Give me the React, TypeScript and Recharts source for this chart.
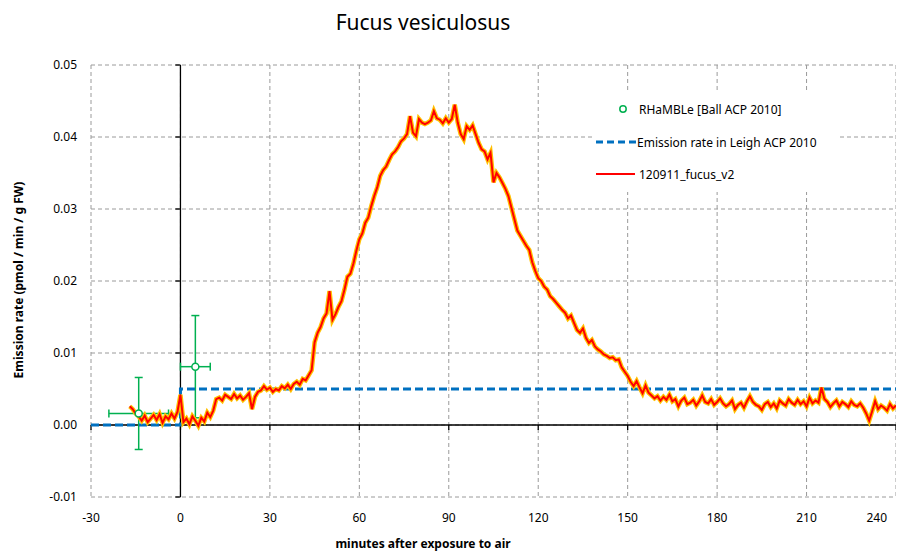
import React from 'react'
import {
  ComposedChart,
  Line,
  Scatter,
  ErrorBar,
  XAxis,
  YAxis,
  CartesianGrid,
  ReferenceLine,
} from 'recharts'

// minute ticks and emission-rate ticks
const xTicks = [-30, 0, 30, 60, 90, 120, 150, 180, 210, 240]
const yTicks = [-0.01, 0, 0.01, 0.02, 0.03, 0.04, 0.05]

// 120911_fucus_v2 — one reading per minute, starting at minute -17
const fucusStart = -17
const fucusRate = [
  0.0026, 0.0022, 0.0016, 0.0012, 0.0006, 0.0013, 0.0004, 0.0009, 0.0014, 0.0007, // -17..-8
  0.0015, 0.0003, 0.0012, 0.0008, 0.0016, 0.0009, 0.0018, 0.0042, 0.0004, 0.0009, // -7..2
  0.0001, 0.0012, 0.0006, -0.0001, 0.0010, 0.0005, 0.0017, 0.0011, 0.0020, 0.0036, // 3..12
  0.0038, 0.0034, 0.0042, 0.0039, 0.0036, 0.0043, 0.0037, 0.0041, 0.0035, 0.0039, // 13..22
  0.0044, 0.0022, 0.0039, 0.0046, 0.0048, 0.0054, 0.0049, 0.0052, 0.0046, 0.0050, // 23..32
  0.0048, 0.0054, 0.0051, 0.0056, 0.0050, 0.0057, 0.0060, 0.0056, 0.0064, 0.0062, // 33..42
  0.0069, 0.0076, 0.0115, 0.0128, 0.0136, 0.0148, 0.0155, 0.0186, 0.0146, 0.0154, // 43..52
  0.0164, 0.0172, 0.0188, 0.0206, 0.0210, 0.0224, 0.0242, 0.0258, 0.0266, 0.0281, // 53..62
  0.0288, 0.0304, 0.0318, 0.0330, 0.0346, 0.0354, 0.0359, 0.0368, 0.0376, 0.0380, // 63..72
  0.0386, 0.0394, 0.0398, 0.0404, 0.0429, 0.0406, 0.0401, 0.0425, 0.0420, 0.0418, // 73..82
  0.0420, 0.0423, 0.0436, 0.0426, 0.0424, 0.0419, 0.0426, 0.0420, 0.0425, 0.0445, // 83..92
  0.0420, 0.0404, 0.0397, 0.0415, 0.0410, 0.0416, 0.0404, 0.0392, 0.0383, 0.0380, // 93..102
  0.0369, 0.0378, 0.0337, 0.0350, 0.0344, 0.0336, 0.0328, 0.0318, 0.0302, 0.0286, // 103..112
  0.0270, 0.0263, 0.0256, 0.0249, 0.0243, 0.0226, 0.0214, 0.0204, 0.0200, 0.0192, // 113..122
  0.0188, 0.0179, 0.0175, 0.0170, 0.0165, 0.0160, 0.0156, 0.0148, 0.0152, 0.0142, // 123..132
  0.0132, 0.0128, 0.0134, 0.0121, 0.0114, 0.0118, 0.0109, 0.0105, 0.0102, 0.0098, // 133..142
  0.0096, 0.0093, 0.0094, 0.0090, 0.0091, 0.0080, 0.0074, 0.0068, 0.0060, 0.0054, // 143..152
  0.0061, 0.0052, 0.0044, 0.0055, 0.0045, 0.0041, 0.0037, 0.0040, 0.0034, 0.0039, // 153..162
  0.0035, 0.0042, 0.0033, 0.0036, 0.0026, 0.0034, 0.0038, 0.0029, 0.0031, 0.0035, // 163..172
  0.0027, 0.0033, 0.0041, 0.0032, 0.0030, 0.0036, 0.0028, 0.0032, 0.0037, 0.0030, // 173..182
  0.0026, 0.0029, 0.0034, 0.0022, 0.0028, 0.0031, 0.0024, 0.0033, 0.0040, 0.0032, // 183..192
  0.0028, 0.0026, 0.0021, 0.0029, 0.0032, 0.0025, 0.0030, 0.0023, 0.0034, 0.0030, // 193..202
  0.0027, 0.0036, 0.0031, 0.0028, 0.0035, 0.0029, 0.0033, 0.0026, 0.0038, 0.0030, // 203..212
  0.0034, 0.0031, 0.0052, 0.0036, 0.0032, 0.0025, 0.0030, 0.0034, 0.0026, 0.0032, // 213..222
  0.0029, 0.0025, 0.0033, 0.0028, 0.0026, 0.0030, 0.0024, 0.0016, 0.0006, 0.0019, // 223..232
  0.0033, 0.0022, 0.0027, 0.0024, 0.0020, 0.0029, 0.0023, 0.0027, // 233..240
]

// Emission rate in Leigh ACP 2010 (step at exposure)
const leighMinutes = [-30, 0, 0, 240]
const leighRate = [0, 0, 0.005, 0.005]

// RHaMBLe [Ball ACP 2010]
const ballMinutes = [-14, 5]
const ballRate = [0.0016, 0.0081]
const ballMinuteErr = [10, 5]
const ballRateErr = [0.005, 0.0071]

const fucusData = fucusRate.map((y, i) => ({ x: fucusStart + i, y }))
const leighData = leighMinutes.map((x, i) => ({ x, y: leighRate[i] }))
const ballData = ballMinutes.map((x, i) => ({
  x,
  y: ballRate[i],
  xErr: ballMinuteErr[i],
  yErr: ballRateErr[i],
}))

const FONT = '"Noto Sans", "Liberation Sans", sans-serif'
const RED = '#ff0000'
const GOLD = '#ffc000'
const BLUE = '#0070c0'
const GREEN = '#00b050'

const HollowDot = (props: any) => {
  const { cx, cy } = props
  if (cx == null || cy == null) return null
  return <circle cx={cx} cy={cy} r={3.5} fill='#fff' stroke={GREEN} strokeWidth={1.5} />
}

// last label is right-aligned so it stays inside the picture
const MinuteTick = (props: any) => {
  const { x, y, payload } = props
  const last = payload.value === xTicks[xTicks.length - 1]
  return (
    <text
      x={last ? x + 3 : x}
      y={y}
      dy='0.71em'
      textAnchor={last ? 'end' : 'middle'}
      fontSize={12}
      fontFamily={FONT}
      fill='#000'
    >
      {payload.value}
    </text>
  )
}

function LegendBox() {
  const row = { position: 'absolute' as const, left: 0, display: 'flex', alignItems: 'center', height: 20 }
  const txt = { marginLeft: 3, fontSize: 12, color: '#000', whiteSpace: 'nowrap' as const }
  return (
    <div style={{ position: 'absolute', left: 587, top: 85, width: 243, height: 99, background: '#fff', fontFamily: FONT }}>
      <div style={{ ...row, top: 6 }}>
        <svg width={41} height={20}><circle cx={28} cy={10} r={3.2} fill='#fff' stroke={GREEN} strokeWidth={1.5} /></svg>
        <span style={txt}>RHaMBLe [Ball ACP 2010]</span>
      </div>
      <div style={{ ...row, top: 39 }}>
        <svg width={41} height={20}><line x1={1} y1={10} x2={41} y2={10} stroke={BLUE} strokeWidth={3} strokeDasharray='7 4' /></svg>
        <span style={{ ...txt, marginLeft: 1 }}>Emission rate in Leigh ACP 2010</span>
      </div>
      <div style={{ ...row, top: 71 }}>
        <svg width={41} height={20}><line x1={1} y1={10} x2={40} y2={10} stroke={RED} strokeWidth={2} /></svg>
        <span style={txt}>120911_fucus_v2</span>
      </div>
    </div>
  )
}

export default function App() {
  return (
    <div style={{ position: 'relative', width: 888, height: 545, fontFamily: FONT }}>
      <style>{'html, body { overflow: hidden; }'}</style>
      <div style={{ position: 'absolute', left: 415, top: 14, transform: 'translate(-50%, -50%)', fontSize: 21, whiteSpace: 'nowrap' }}>
        Fucus vesiculosus
      </div>
      <div style={{ position: 'absolute', left: 10, top: 272, width: 0, height: 0 }}>
        <div style={{ position: 'absolute', transform: 'translate(-50%, -50%) rotate(-90deg)', fontSize: 12, fontWeight: 700, whiteSpace: 'nowrap' }}>
          Emission rate (pmol / min / g FW)
        </div>
      </div>

      <ComposedChart width={888} height={537} margin={{ top: 57, right: 0, left: 0, bottom: 18 }}>
        <CartesianGrid stroke='#9a9a9a' strokeDasharray='4 3' />
        <XAxis
          type='number'
          dataKey='x'
          domain={[-30, 240]}
          ticks={xTicks}
          allowDataOverflow
          axisLine={false}
          tickLine={false}
          tickMargin={10}
          height={30}
          tick={MinuteTick}
        />
        <YAxis
          type='number'
          dataKey='y'
          domain={[-0.01, 0.05]}
          ticks={yTicks}
          allowDataOverflow
          axisLine={false}
          tickLine={false}
          tickMargin={8}
          width={83}
          tickFormatter={(v: number) => v.toFixed(2)}
          tick={{ fontSize: 12, fill: '#000', fontFamily: FONT }}
        />

        <ReferenceLine x={0} stroke='#000' strokeWidth={1.3} />
        <ReferenceLine y={0} stroke='#000' strokeWidth={1.3} />
        {yTicks.map((t) => (
          <ReferenceLine key={'yt' + t} segment={[{ x: -1.7, y: t }, { x: 0, y: t }]} stroke='#000' strokeWidth={1.3} />
        ))}
        {xTicks.map((t) => (
          <ReferenceLine key={'xt' + t} segment={[{ x: t, y: 0 }, { x: t, y: -0.0007 }]} stroke='#000' strokeWidth={1.3} />
        ))}

        <Scatter data={ballData} dataKey='y' shape={HollowDot} isAnimationActive={false}>
          <ErrorBar dataKey='xErr' direction='x' stroke={GREEN} strokeWidth={1.5} width={4} />
          <ErrorBar dataKey='yErr' direction='y' stroke={GREEN} strokeWidth={1.5} width={4} />
        </Scatter>
        <Line data={leighData} dataKey='y' type='linear' stroke={BLUE} strokeWidth={3} strokeDasharray='8 4' dot={false} isAnimationActive={false} />
        <Line data={fucusData} dataKey='y' type='linear' stroke={GOLD} strokeWidth={4.5} dot={false} isAnimationActive={false} />
        <Line data={fucusData} dataKey='y' type='linear' stroke={RED} strokeWidth={2} dot={false} isAnimationActive={false} />
      </ComposedChart>

      <div style={{ position: 'absolute', left: 415, top: 528, transform: 'translateX(-50%)', fontSize: 12, lineHeight: '16px', fontWeight: 700, whiteSpace: 'nowrap' }}>
        minutes after exposure to air
      </div>
      <LegendBox />
    </div>
  )
}
